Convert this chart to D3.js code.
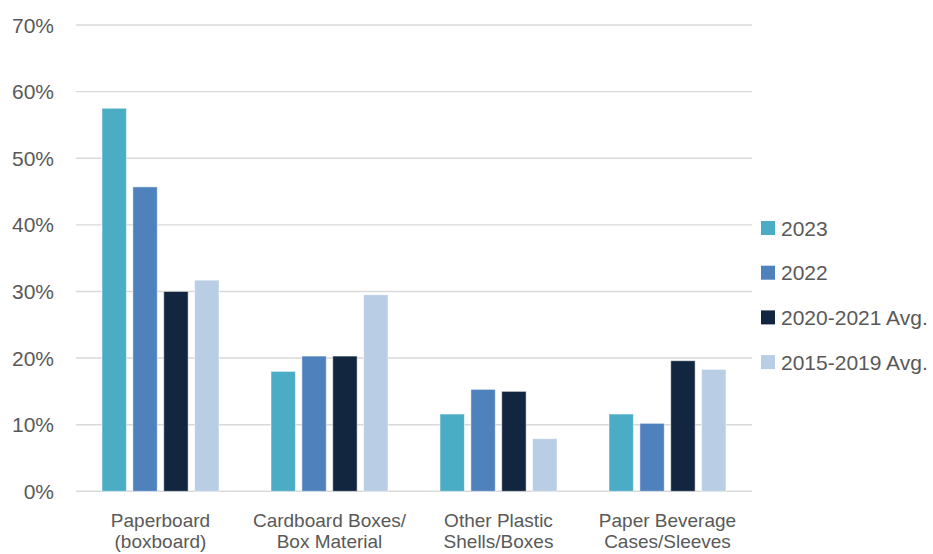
<!DOCTYPE html>
<html>
<head>
<meta charset="utf-8">
<script src="https://cdn.jsdelivr.net/npm/d3@7"></script>
<style>
  body { margin: 0; background: #fff; }
  svg text { font-family: "Liberation Sans", Arial, sans-serif; fill: #595959; }
</style>
</head>
<body>
<div id="chart"></div>
<script>
// Chart data
const categories = [
    ["Paperboard", "(boxboard)"],
    ["Cardboard Boxes/", "Box Material"],
    ["Other Plastic", "Shells/Boxes"],
    ["Paper Beverage", "Cases/Sleeves"]
];
const seriesNames = ["2023", "2022", "2020-2021 Avg.", "2015-2019 Avg."];
const values2023 = [0.575, 0.180, 0.116, 0.116];
const values2022 = [0.457, 0.203, 0.153, 0.102];
const values2020_2021 = [0.300, 0.203, 0.150, 0.196];
const values2015_2019 = [0.317, 0.295, 0.079, 0.183];
const yTicks = [0, 0.1, 0.2, 0.3, 0.4, 0.5, 0.6, 0.7];

const colors = ["#4BACC6", "#4F81BD", "#12263F", "#B9CDE5"];
const allSeries = [values2023, values2022, values2020_2021, values2015_2019];

const width = 933;
const height = 554;

const svg = d3.select("#chart")
    .append("svg")
    .attr("width", width)
    .attr("height", height);

// Scales
const x = d3.scaleBand()
    .domain(d3.range(categories.length))
    .range([76, 752]);

const xInner = d3.scaleBand()
    .domain(d3.range(seriesNames.length))
    .range([26, 143])
    .paddingInner(0.21);

const y = d3.scaleLinear()
    .domain([0, 0.7])
    .range([491.3, 25]);

// Gridlines
svg.append("g")
    .selectAll("line")
    .data(yTicks)
    .enter().append("line")
    .attr("x1", 76)
    .attr("x2", 752)
    .attr("y1", d => y(d))
    .attr("y2", d => y(d))
    .attr("stroke", "#d9d9d9")
    .attr("stroke-width", 1.4);

// Y axis labels
svg.append("g")
    .selectAll("text")
    .data(yTicks)
    .enter().append("text")
    .attr("x", 54)
    .attr("y", d => y(d))
    .attr("dy", "0.36em")
    .attr("text-anchor", "end")
    .style("font-size", "21px")
    .text(d => d3.format(".0%")(d));

// Bars
const groups = svg.append("g")
    .selectAll("g")
    .data(categories.map((c, i) => i))
    .enter().append("g")
    .attr("transform", i => `translate(${x(i)},0)`);

groups.selectAll("rect")
    .data(i => allSeries.map((s, k) => ({ k: k, v: s[i] })))
    .enter().append("rect")
    .attr("x", d => xInner(d.k))
    .attr("width", xInner.bandwidth())
    .attr("y", d => y(d.v))
    .attr("height", d => y(0) - y(d.v))
    .attr("fill", d => colors[d.k])
    .attr("stroke", "#fff")
    .attr("stroke-opacity", 0.5)
    .attr("stroke-width", 1);

// X axis labels (two lines each)
const xLabels = svg.append("g")
    .selectAll("text")
    .data(categories)
    .enter().append("text")
    .attr("text-anchor", "middle")
    .style("font-size", "19px");

xLabels.selectAll("tspan")
    .data((d, i) => d.map(line => ({ line: line, i: i })))
    .enter().append("tspan")
    .attr("x", d => x(d.i) + x.bandwidth() / 2)
    .attr("y", (d, j) => 527 + j * 21)
    .text(d => d.line);

// Legend
const legend = svg.append("g")
    .selectAll("g")
    .data(seriesNames)
    .enter().append("g")
    .attr("transform", (d, i) => `translate(761,${228 + i * 44.7})`);

legend.append("rect")
    .attr("x", 0)
    .attr("y", -7)
    .attr("width", 14)
    .attr("height", 14)
    .attr("fill", (d, i) => colors[i]);

legend.append("text")
    .attr("x", 20)
    .attr("y", 0)
    .attr("dy", "0.36em")
    .style("font-size", "21px")
    .text(d => d);
</script>
</body>
</html>
